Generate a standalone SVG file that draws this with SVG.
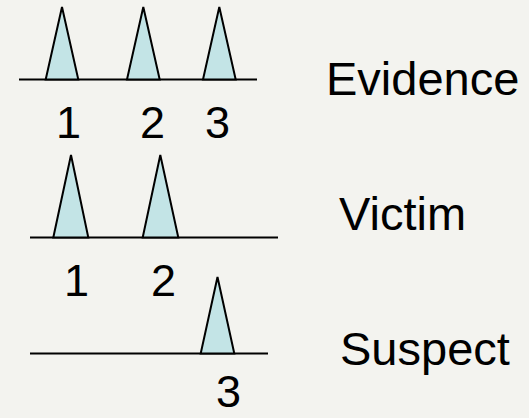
<svg xmlns="http://www.w3.org/2000/svg" width="529" height="418" viewBox="0 0 529 418">
<defs>
<style>
.bg{fill:#f3f3ef}
.base{stroke:#000;stroke-width:2;fill:none}
.peak{fill:#c3e4e6;stroke:#000;stroke-width:2;stroke-linejoin:miter}
.num{font-family:"Liberation Sans",Arial,sans-serif;font-size:45px;fill:#000}
.lbl{font-family:"Liberation Sans",Arial,sans-serif;font-size:47px;fill:#000}
</style>
</defs>
<rect class="bg" x="0" y="0" width="529" height="418"/>
<g id="connectors">
<line class="base" x1="19" y1="79.5" x2="257" y2="79.5"/>
<line class="base" x1="30" y1="237.5" x2="278" y2="237.5"/>
<line class="base" x1="30" y1="353.5" x2="268" y2="353.5"/>
</g>
<g id="evidence">
<polygon class="peak" points="45.7,79.5 62,7 78.3,79.5"/>
<polygon class="peak" points="127,79.5 143.3,7 159.7,79.5"/>
<polygon class="peak" points="203,79.5 219.3,7 235.7,79.5"/>
<text class="num" x="56" y="138">1</text>
<text class="num" x="140" y="138">2</text>
<text class="num" x="205" y="138">3</text>
<text class="lbl" x="326" y="95">Evidence</text>
</g>
<g id="victim">
<polygon class="peak" points="53.3,237.5 71,155 88.3,237.5"/>
<polygon class="peak" points="142.7,237.5 160.3,155 178.3,237.5"/>
<text class="num" x="64" y="296">1</text>
<text class="num" x="151" y="296">2</text>
<text class="lbl" x="339" y="230">Victim</text>
</g>
<g id="suspect">
<polygon class="peak" points="200.7,353.5 217.5,277 234.3,353.5"/>
<text class="num" x="216" y="407">3</text>
<text class="lbl" x="340" y="365">Suspect</text>
</g>
</svg>
